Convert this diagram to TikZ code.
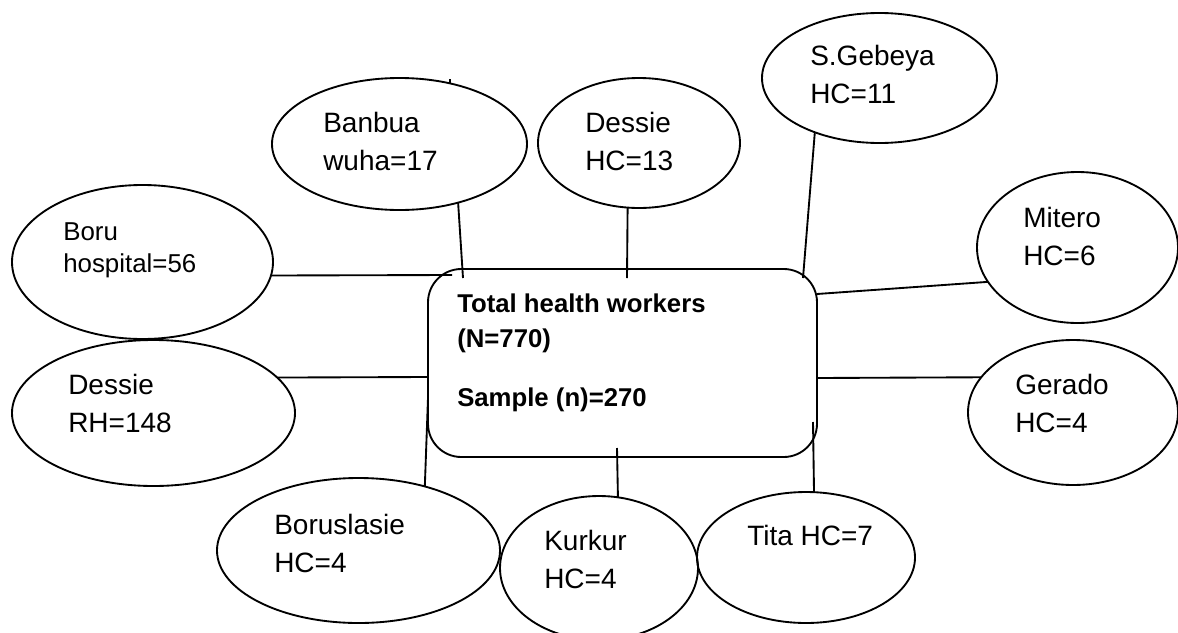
\documentclass[tikz,border=0pt]{standalone}
\usepackage{fontspec}
\setmainfont{Liberation Sans}
\usetikzlibrary{shapes,positioning}
\newcommand{\sitefont}{\fontsize{21}{28.5}\selectfont}
\newcommand{\smallsitefont}{\fontsize{19.4}{24}\selectfont}
\newcommand{\hubfont}{\fontsize{19.3}{26.25}\selectfont\bfseries}
\tikzstyle{link} = [line width=1.4pt]
\tikzstyle{site} = [shape = ellipse, draw, line width=1.4pt, inner sep=0, outer sep=0]
\tikzstyle{hubBox} = [shape = rectangle, draw, line width=1.4pt, rounded corners=25pt, inner sep=0, outer sep=0]
\tikzstyle{siteText} = [font=\sitefont, align=left, inner sep=0, anchor=base west]
\tikzset{dims/.style 2 args={minimum width=#1*0.75pt, minimum height=#2*0.75pt}}

\begin{document}
\begin{tikzpicture}[x=0.75pt, y=-0.75pt]
					\useasboundingbox (0,0) rectangle (1178,632);
					% centre box
					\node (hub) [hubBox, dims={389}{188}] at (622.5,363) {};
					\node (hubText) [siteText, font=\hubfont] at (457,406) {
						Total health workers\\(N=770)\\[18pt]Sample (n)=270
					};
					% sites
					\node (boru) [site, dims={261}{154}] at (142.5,262) {};
					\node (dessieRH) [site, dims={283}{146}] at (153.5,413) {};
					\node (banbua) [site, dims={255}{132}] at (399.5,144) {};
					\node (dessieHC) [site, dims={202}{130}] at (639,143) {};
					\node (gebeya) [site, dims={235}{130}] at (879.5,78) {};
					\node (mitero) [site, dims={201}{151}] at (1077.5,247.5) {};
					\node (gerado) [site, dims={210}{145}] at (1073,412.5) {};
					\node (tita) [site, dims={218}{131}] at (806,557.5) {};
					\node (kurkur) [site, dims={198}{144}] at (599,568) {};
					\node (boruslasie) [site, dims={283}{145}] at (358.5,550.5) {};
					% site labels (placed by the baseline of their last line)
					\node (boruText) [siteText, font=\smallsitefont] at (63,272) {Boru\\hospital=56};
					\node (dessieRHText) [siteText] at (68,432) {Dessie\\RH=148};
					\node (banbuaText) [siteText] at (323,170) {Banbua\\wuha=17};
					\node (dessieHCText) [siteText] at (585,170) {Dessie\\HC=13};
					\node (gebeyaText) [siteText] at (810,103) {S.Gebeya\\HC=11};
					\node (miteroText) [siteText] at (1023,265) {Mitero\\HC=6};
					\node (geradoText) [siteText] at (1015,432) {Gerado\\HC=4};
					\node (titaText) [siteText] at (747,545) {Tita HC=7};
					\node (kurkurText) [siteText] at (544,588) {Kurkur\\HC=4};
					\node (boruslasieText) [siteText] at (274,572) {Boruslasie\\HC=4};
					% links
					\draw[link] (boru.-6) -- ([shift={(24,6)}]hub.north west);
					\draw[link] (dessieRH.16) -- ([shift={(0,14)}]hub.west);
					\draw[link] (banbua.-45) -- ([shift={(35,9)}]hub.north west);
					\draw[link] (banbua.50) -- ++(0,-4);
					\draw[link] (dessieHC.-100.5) -- ([shift={(4.5,9)}]hub.north);
					\draw[link] (gebeya.-140.8) -- ([shift={(-14,9)}]hub.north east);
					\draw[link] (mitero.-159.1) -- ([shift={(0,25)}]hub.north east);
					\draw[link] (gerado.159.6) -- ([shift={(0,15)}]hub.east);
					\draw[link] (tita.83) -- ([shift={(-4,59)}]hub.east);
					\draw[link] (kurkur.75.8) -- ([shift={(-5.5,-9)}]hub.south);
					\draw[link] (boruslasie.44.6) -- ([shift={(0,35)}]hub.west);
\end{tikzpicture}
\end{document}
